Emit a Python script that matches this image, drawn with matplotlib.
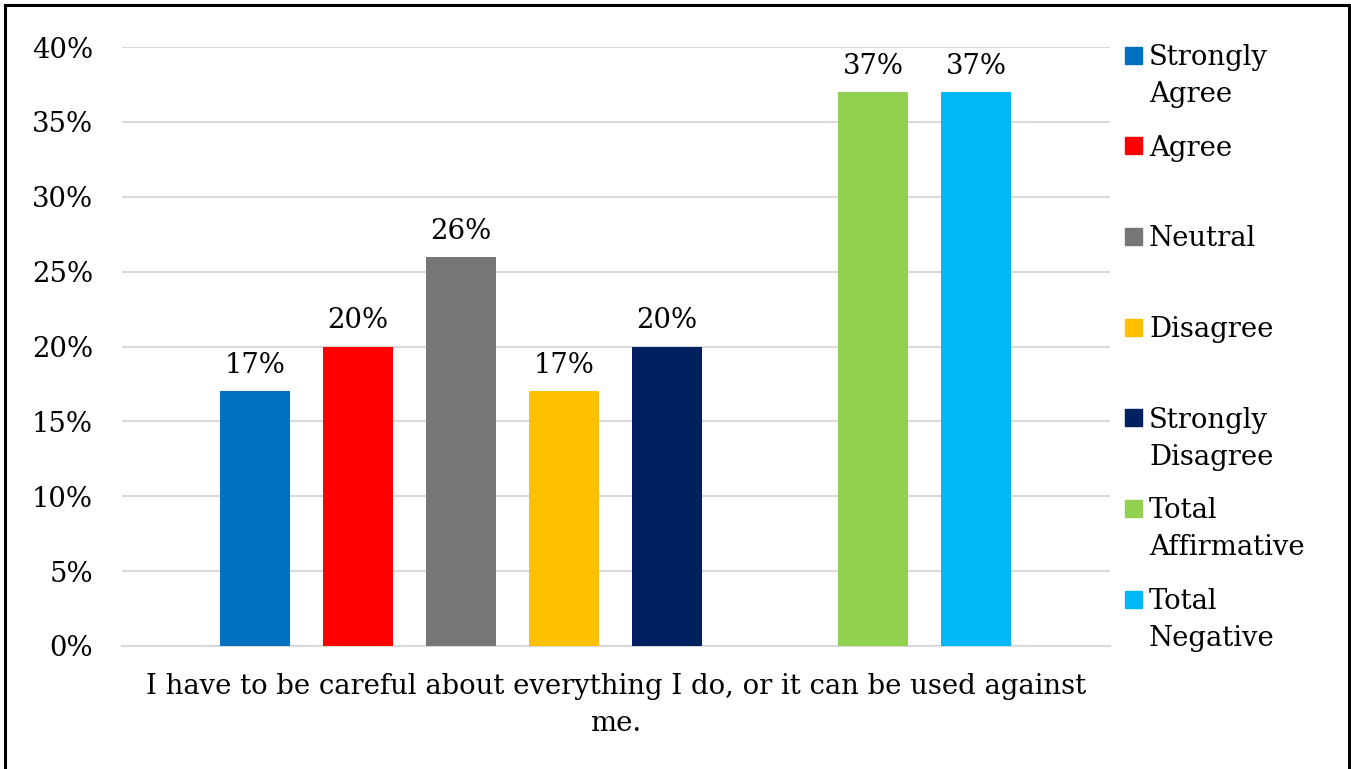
import matplotlib
matplotlib.use("Agg")
import matplotlib.pyplot as plt
from matplotlib.lines import Line2D
from matplotlib.patches import Rectangle

# ---- data ----
series = ["Strongly\nAgree", "Agree", "Neutral", "Disagree", "Strongly\nDisagree",
          "Total\nAffirmative", "Total\nNegative"]
values = [0.17, 0.20, 0.26, 0.17, 0.20, 0.37, 0.37]
colors = ["#0070C0", "#FF0000", "#767676", "#FFC000", "#002060", "#92D050", "#00B8F6"]
category = "I have to be careful about everything I do, or it can be used against\nme."
yticks = [0, 0.05, 0.10, 0.15, 0.20, 0.25, 0.30, 0.35, 0.40]

W, H = 1351, 769
FONT = "DejaVu Serif"
FS = 19.8
plt.rcParams["font.family"] = [FONT]

fig = plt.figure(figsize=(W / 100, H / 100), dpi=100)
fig.patch.set_facecolor("white")

def fx(px):
    return px / W

def fy(py):
    return 1 - py / H

# plot area in pixels
L, R, T, B = 122, 1110, 47, 646
ax = fig.add_axes([fx(L), fy(B), fx(R - L), (B - T) / H])

slot_px = 103
first_center = 255
slots = [i if i < 5 else i + 1 for i in range(len(values))]
bar_w = 70 / slot_px
xmin = -(first_center - L) / slot_px
xmax = xmin + (R - L) / slot_px

bars = ax.bar(slots, values, width=bar_w, color=colors, zorder=3)
for b, v in zip(bars, values):
    ax.annotate(f"{round(v * 100)}%", (b.get_x() + b.get_width() / 2, v),
                xytext=(0, 13), textcoords="offset points",
                ha="center", va="baseline", fontsize=FS, family=FONT)

ax.set_xlim(xmin, xmax)
ax.set_ylim(0, 0.40)
ax.set_yticks(yticks)
ax.set_yticklabels([f"{round(t * 100)}%" for t in yticks], fontsize=FS, family=FONT)
ax.set_xticks([])
ax.tick_params(axis="y", length=0, pad=21)
ax.grid(axis="y", color="#D9D9D9", linewidth=1.5, zorder=0)
for s in ["top", "right", "left"]:
    ax.spines[s].set_visible(False)
ax.spines["bottom"].set_color("#D9D9D9")
ax.spines["bottom"].set_linewidth(1.5)

# category label (one text per line)
for j, ln in enumerate(category.split("\n")):
    fig.text(fx((L + R) / 2), fy(694 + j * 37), ln, ha="center", va="baseline",
             fontsize=FS, family=FONT)

# legend (manual)
first = 55
step = (599 - 55) / 6
for i, (name, c) in enumerate(zip(series, colors)):
    cy = first + i * step
    fig.patches.append(Rectangle((fx(1125), fy(cy + 8.5)), fx(17), 17 / H,
                                 transform=fig.transFigure, color=c, figure=fig))
    for j, ln in enumerate(name.split("\n")):
        fig.text(fx(1149), fy(cy + 10 + j * 37), ln, ha="left", va="baseline",
                 fontsize=FS, family=FONT)

# outer border (left, top, right)
for xs, ys in [([5, 5], [5, H + 5]), ([5, 1349], [5, 5]), ([1349, 1349], [5, H + 5])]:
    fig.add_artist(Line2D([fx(x) for x in xs], [fy(y) for y in ys],
                          color="black", linewidth=2.2, transform=fig.transFigure))

fig.savefig("out.png", dpi=100, facecolor="white")
